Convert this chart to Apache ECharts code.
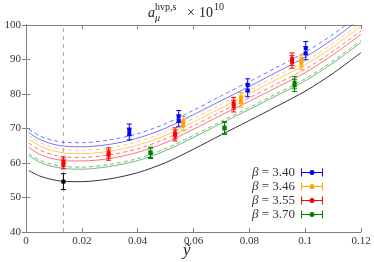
<!DOCTYPE html>
<html><head><meta charset="utf-8">
<script src="https://cdn.jsdelivr.net/npm/echarts@6/dist/echarts.min.js"></script>
<style>html,body{margin:0;padding:0;background:#fff}#c{width:374px;height:262px}</style>
</head><body><div id="c"></div>
<script>
// ---- data ----
const xTicks = [0, 0.02, 0.04, 0.06, 0.08, 0.1, 0.12];
const yTicks = [40, 50, 60, 70, 80, 90, 100];
const physX = [0.0134];

const curveX = [0.001, 0.005, 0.01, 0.015, 0.02, 0.03, 0.04, 0.05, 0.06, 0.07, 0.08, 0.09, 0.10, 0.11, 0.12];
const curveBlack   = [57.8, 56.2, 55.1, 54.6, 54.6, 55.4, 57.2, 60.1, 64.0, 68.2, 72.3, 76.5, 80.8, 86.0, 92.0];
const curveGreen   = [62.1, 60.2, 58.9, 58.3, 58.2, 59.0, 60.7, 63.6, 67.4, 71.5, 75.5, 79.6, 83.8, 89.0, 94.9];
const curveGreenD  = [62.7, 60.8, 59.5, 58.9, 58.8, 59.6, 61.3, 64.2, 68.0, 72.1, 76.1, 80.2, 84.4, 89.6, 95.5];
const curveRed     = [64.5, 62.5, 61.2, 60.6, 60.6, 61.3, 63.1, 65.9, 69.8, 73.9, 77.9, 82.0, 86.2, 91.4, 97.3];
const curveRedD    = [65.8, 63.7, 62.3, 61.7, 61.6, 62.4, 64.1, 67.0, 70.8, 74.9, 78.9, 83.0, 87.2, 92.4, 98.3];
const curveOrange  = [66.9, 64.9, 63.5, 62.8, 62.7, 63.4, 65.2, 68.0, 71.9, 76.0, 80.1, 84.3, 88.5, 93.7, 99.7];
const curveOrangeD = [67.9, 65.9, 64.5, 63.8, 63.7, 64.4, 66.2, 69.0, 72.9, 77.0, 81.1, 85.3, 89.5, 94.7, 100.7];
const curveBlue    = [68.8, 66.8, 65.4, 64.8, 64.7, 65.4, 67.2, 70.1, 74.0, 78.1, 82.2, 86.4, 90.7, 95.9, 101.9];
const curveBlueD   = [69.8, 67.8, 66.5, 65.9, 65.9, 66.7, 68.5, 71.4, 75.3, 79.5, 83.6, 87.8, 92.1, 97.3, 103.3];

const blueX = [0.0370, 0.0370, 0.0547, 0.0547, 0.0794, 0.0794, 0.1002, 0.1002];
const blueY = [69.6, 68.4, 73.5, 72.2, 82.6, 81.0, 93.3, 91.8];
const blueE = [1.7, 1.7, 1.7, 1.7, 1.8, 1.8, 1.9, 1.9];
const orangeX = [0.0563, 0.0563, 0.0770, 0.0770, 0.0986, 0.0986];
const orangeY = [72.0, 70.9, 78.8, 77.8, 89.6, 88.9];
const orangeE = [1.5, 1.5, 1.6, 1.6, 1.7, 1.7];
const redX = [0.0134, 0.0134, 0.0296, 0.0296, 0.0534, 0.0534, 0.0744, 0.0744, 0.0953, 0.0953];
const redY = [60.3, 59.7, 62.9, 62.3, 68.6, 68.0, 77.3, 76.5, 90.1, 89.3];
const redE = [1.4, 1.4, 1.5, 1.5, 1.6, 1.6, 1.7, 1.7, 1.8, 1.8];
const greenX = [0.0446, 0.0446, 0.0711, 0.0711, 0.0962, 0.0962];
const greenY = [63.1, 62.8, 70.3, 70.0, 83.3, 82.5];
const greenE = [1.5, 1.5, 1.7, 1.7, 1.8, 1.8];
const blackX = [0.0134];
const blackY = [54.6];
const blackE = [2.3];

const betaNames = ['β = 3.40', 'β = 3.46', 'β = 3.55', 'β = 3.70'];

// ---- build chart ----
const FONT = 'Liberation Serif';
const chart = echarts.init(document.getElementById('c'), null, {renderer: 'canvas'});
const zip = (xs, ys) => xs.map((x, i) => [x, ys[i]]);
const zip3 = (xs, ys, es) => xs.map((x, i) => [x, ys[i], es[i]]);

function curve(name, ys, color, dashed, opacity) {
  return {
    type: 'line', name: name, data: zip(curveX, ys), symbol: 'none', smooth: 0.3,
    lineStyle: {color: color, width: 1, type: dashed ? [4, 3] : 'solid', opacity: opacity},
    z: 2, silent: true, legendHoverLink: false
  };
}
function errSeries(name, xs, ys, es, color) {
  return {
    type: 'custom', name: name, data: zip3(xs, ys, es), z: 5,
    itemStyle: {color: color},
    renderItem: function (params, api) {
      const x = api.value(0), y = api.value(1), e = api.value(2);
      const t = api.coord([x, y + e]), b = api.coord([x, y - e]), c = api.coord([x, y]);
      const hw = 2.5, s = 4;
      return {type: 'group', children: [
        {type: 'line', shape: {x1: t[0], y1: t[1], x2: b[0], y2: b[1]}, style: {stroke: color, lineWidth: 1}},
        {type: 'line', shape: {x1: t[0] - hw, y1: t[1], x2: t[0] + hw, y2: t[1]}, style: {stroke: color, lineWidth: 1}},
        {type: 'line', shape: {x1: b[0] - hw, y1: b[1], x2: b[0] + hw, y2: b[1]}, style: {stroke: color, lineWidth: 1}},
        {type: 'rect', shape: {x: c[0] - s / 2, y: c[1] - s / 2, width: s, height: s}, style: {fill: color}}
      ]};
    }
  };
}

const C = {blue: '#0000ff', orange: '#ffa500', red: '#ff0000', green: '#008000', black: '#000000'};
const icon = 'path://M0,0h1v8h-1z M1,3.5h8v1h-8z M13,3.5h8v1h-8z M21,0h1v8h-1z M8.5,4a2.5,2.5 0 1,1 5,0a2.5,2.5 0 1,1 -5,0z';

const axisColor = '#808080';
const labelStyle = {fontFamily: FONT, fontSize: 11, color: '#333'};

chart.setOption({
  animation: false,
  grid: {left: 26, right: 13, top: 25, bottom: 30},
  xAxis: [
    {type: 'value', min: xTicks[0], max: xTicks[xTicks.length - 1], interval: 0.02, position: 'bottom',
     axisLine: {show: true, lineStyle: {color: axisColor}},
     axisTick: {show: true, inside: true, length: 4, lineStyle: {color: axisColor}},
     axisLabel: Object.assign({margin: 4, formatter: v => String(+v.toFixed(2))}, labelStyle),
     splitLine: {show: false}},
    {type: 'value', min: xTicks[0], max: xTicks[xTicks.length - 1], interval: 0.02, position: 'top',
     axisLine: {show: true, lineStyle: {color: axisColor}},
     axisTick: {show: true, inside: true, length: 4, lineStyle: {color: axisColor}},
     axisLabel: {show: false}, splitLine: {show: false}}
  ],
  yAxis: [
    {type: 'value', min: yTicks[0], max: yTicks[yTicks.length - 1], interval: 10, position: 'left',
     axisLine: {show: true, lineStyle: {color: axisColor}},
     axisTick: {show: true, inside: true, length: 4, lineStyle: {color: axisColor}},
     axisLabel: Object.assign({margin: 5}, labelStyle),
     splitLine: {show: false}},
    {type: 'value', min: yTicks[0], max: yTicks[yTicks.length - 1], interval: 10, position: 'right',
     axisLine: {show: true, lineStyle: {color: axisColor}},
     axisTick: {show: true, inside: true, length: 4, lineStyle: {color: axisColor}},
     axisLabel: {show: false}, splitLine: {show: false}}
  ],
  legend: {
    orient: 'vertical', right: 51, top: 166, itemGap: 1, itemWidth: 22, itemHeight: 8, align: 'right',
    padding: 0, selectedMode: false,
    data: betaNames.map(n => ({name: n, icon: icon})),
    formatter: n => '{b|β}' + n.slice(1),
    textStyle: {fontFamily: FONT, fontSize: 13, lineHeight: 13, color: '#333', padding: [0, 1, 0, 0],
      rich: {b: {fontFamily: FONT, fontStyle: 'italic', fontSize: 13, lineHeight: 13, color: '#333'}}}
  },
  series: [
    {type: 'line', name: 'phys', data: physX.flatMap(x => [[x, yTicks[0]], [x, yTicks[yTicks.length - 1]]]),
     symbol: 'none', lineStyle: {color: '#aaaaaa', width: 1, type: [4, 4]}, z: 1, silent: true},
    curve('c0', curveBlack, '#333333', false, 1),
    curve('cg', curveGreen, C.green, false, 0.55),
    curve('cgd', curveGreenD, C.green, true, 0.55),
    curve('cr', curveRed, C.red, false, 0.55),
    curve('crd', curveRedD, C.red, true, 0.55),
    curve('co', curveOrange, C.orange, false, 0.6),
    curve('cod', curveOrangeD, C.orange, true, 0.6),
    curve('cb', curveBlue, C.blue, false, 0.55),
    curve('cbd', curveBlueD, C.blue, true, 0.55),
    errSeries(betaNames[0], blueX, blueY, blueE, C.blue),
    errSeries(betaNames[1], orangeX, orangeY, orangeE, C.orange),
    errSeries(betaNames[2], redX, redY, redE, C.red),
    errSeries(betaNames[3], greenX, greenY, greenE, C.green),
    errSeries('cont', blackX, blackY, blackE, C.black)
  ],
  graphic: [
    {type: 'text', left: 148, top: 6, style: {text: 'a', font: 'italic 14px ' + FONT, fill: '#222'}},
    {type: 'text', left: 155, top: 2, style: {text: 'hvp,s', font: '10px ' + FONT, fill: '#222'}},
    {type: 'text', left: 155, top: 13, style: {text: 'μ', font: 'italic 10px ' + FONT, fill: '#222'}},
    {type: 'text', left: 187, top: 6, style: {text: '×', font: '14px ' + FONT, fill: '#222'}},
    {type: 'text', left: 199, top: 6, style: {text: '10', font: '14px ' + FONT, fill: '#222'}},
    {type: 'text', left: 214, top: 2, style: {text: '10', font: '10px ' + FONT, fill: '#222'}},
    {type: 'text', left: 183, top: 242, style: {text: 'ỹ', font: 'italic 17px ' + FONT, fill: '#222'}}
  ]
});
</script></body></html>
